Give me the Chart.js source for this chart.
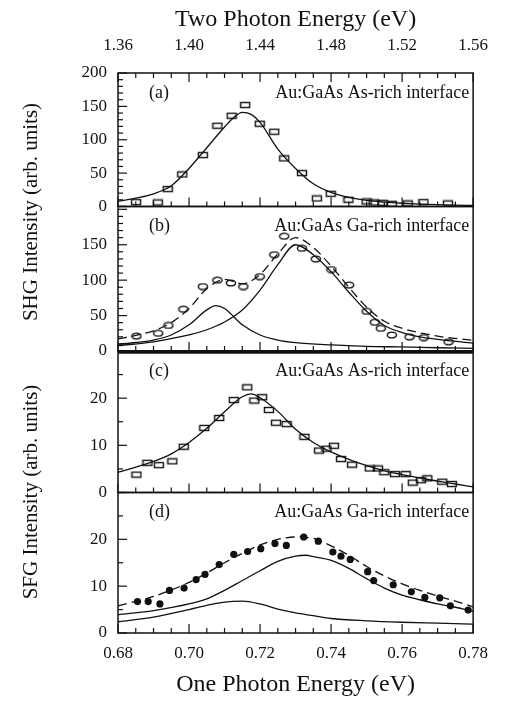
<!DOCTYPE html>
<html>
<head>
<meta charset="utf-8">
<script src="https://cdn.jsdelivr.net/npm/chart.js@4.4.1/dist/chart.umd.min.js"></script>
<style>
  html, body { margin: 0; padding: 0; background: #fff; }
  #wrap { width: 505px; height: 708px; }
</style>
</head>
<body>
<div id="wrap"><canvas id="myChart" width="505" height="708"></canvas></div>
<script>
// axis ticks
var xTicks = [0.68, 0.70, 0.72, 0.74, 0.76, 0.78];
var topTicks = [1.36, 1.40, 1.44, 1.48, 1.52, 1.56];
var yTicksA = [0, 50, 100, 150, 200];
var yTicksB = [0, 50, 100, 150];
var yTicksC = [0, 10, 20];
var yTicksD = [0, 10, 20];

// (a) SHG, As-rich interface
var energyA = [0.6851, 0.6912, 0.6940, 0.6981, 0.7039, 0.7080, 0.7120, 0.7158, 0.7199, 0.7240, 0.7268,
  0.7318, 0.7360, 0.7399, 0.7449, 0.7500, 0.7520, 0.7545, 0.7571, 0.7616, 0.7660, 0.7729];
var shgA = [6.5, 6, 26, 48, 77, 121, 136, 152, 124, 112, 72, 50, 12, 19, 10, 7.5, 6, 5.5, 4, 4.5, 6.5, 4.5];
var fitXA = [0.68, 0.685, 0.69, 0.695, 0.70, 0.705, 0.71, 0.7125, 0.715, 0.7175, 0.72, 0.725, 0.73, 0.735,
  0.74, 0.745, 0.75, 0.755, 0.76, 0.765, 0.77, 0.775, 0.78];
var fitA = [7.5, 12.5, 19, 31, 57, 88, 119, 133, 141, 138, 126, 86, 57, 34, 21, 13.5, 9, 6.5, 4.8, 3.6, 2.7, 2, 1.5];

// (b) SHG, Ga-rich interface
var energyB = [0.6852, 0.6913, 0.6942, 0.6984, 0.7039, 0.7080, 0.7118, 0.7153, 0.7199, 0.7240, 0.7268,
  0.7318, 0.7357, 0.7401, 0.7451, 0.7500, 0.7523, 0.7540, 0.7571, 0.7621, 0.7661, 0.7731];
var shgB = [21, 25, 36, 59, 91, 100, 96, 91, 105, 136, 162, 145, 130, 115, 93, 56, 40.5, 32, 22.6, 20, 19, 13];
var fitXB1 = [0.68, 0.685, 0.69, 0.695, 0.70, 0.705, 0.7075, 0.71, 0.715, 0.72, 0.725, 0.73, 0.74, 0.75, 0.76, 0.77, 0.78];
var fitB1 = [9.4, 12, 15.5, 22.6, 37, 58, 64, 60, 37, 22.6, 15.5, 11.8, 8.5, 6.5, 5.7, 4.6, 3.7];
var fitXB2 = [0.68, 0.69, 0.70, 0.705, 0.71, 0.715, 0.72, 0.725, 0.73, 0.735, 0.74, 0.745, 0.75, 0.755, 0.76, 0.765, 0.77, 0.78];
var fitB2 = [7.5, 13, 22.6, 30, 41, 58, 86, 122, 150, 136, 112, 83, 56, 36, 26, 20, 16.5, 11];
var fitXB3 = [0.68, 0.685, 0.69, 0.695, 0.70, 0.705, 0.71, 0.715, 0.72, 0.725, 0.73, 0.735, 0.74, 0.745, 0.75, 0.755, 0.76, 0.77, 0.78];
var fitB3 = [17, 22, 28.5, 40, 60, 88, 101, 95, 108, 137, 160, 146, 120, 90, 62, 42, 32, 21, 15];

// (c) SFG, As-rich interface
var energyC = [0.6852, 0.6883, 0.6915, 0.6953, 0.6985, 0.7043, 0.7085, 0.7126, 0.7164, 0.7184, 0.7206,
  0.7225, 0.7245, 0.7275, 0.7325, 0.7366, 0.7387, 0.7408, 0.7428, 0.7459, 0.7509, 0.7532, 0.7550,
  0.7580, 0.7610, 0.7630, 0.7653, 0.7671, 0.7713, 0.7740];
var sfgC = [3.8, 6.3, 5.8, 6.6, 9.7, 13.7, 15.8, 19.6, 22.3, 19.5, 20.2, 17.5, 14.8, 14.5, 11.8, 8.9, 9.3,
  9.9, 7.1, 5.9, 5.1, 5.1, 4.3, 3.9, 3.9, 2.1, 2.6, 3.0, 2.3, 1.8];
var fitXC = [0.68, 0.685, 0.69, 0.695, 0.70, 0.705, 0.71, 0.715, 0.7175, 0.72, 0.725, 0.73, 0.735, 0.74,
  0.745, 0.75, 0.755, 0.76, 0.765, 0.77, 0.775, 0.78];
var fitC = [4.3, 5.4, 6.6, 8.2, 10.6, 13.6, 17.1, 20.3, 20.9, 20.1, 17.2, 13.4, 10.6, 8.6, 7.0, 5.7, 4.6, 3.8, 3.1, 2.4, 1.8, 1.2];

// (d) SFG, Ga-rich interface
var energyD = [0.6855, 0.6885, 0.6918, 0.6945, 0.6986, 0.7020, 0.7045, 0.7085, 0.7126, 0.7165, 0.7202,
  0.7242, 0.7274, 0.7323, 0.7364, 0.7405, 0.7428, 0.7454, 0.7503, 0.7520, 0.7575, 0.7626, 0.7664,
  0.7706, 0.7736, 0.7786];
var sfgD = [6.7, 6.7, 6.2, 9.1, 9.6, 11.4, 12.5, 14.6, 16.8, 17.4, 18.0, 19.1, 18.7, 20.5, 19.6, 17.3, 16.4,
  15.7, 13.1, 11.2, 10.3, 8.8, 7.6, 7.5, 5.8, 4.9];
var fitXD1 = [0.68, 0.69, 0.70, 0.705, 0.71, 0.715, 0.72, 0.725, 0.73, 0.735, 0.74, 0.75, 0.76, 0.77, 0.78];
var fitD1 = [2.4, 3.4, 5.0, 5.9, 6.6, 6.8, 6.2, 5.1, 4.3, 3.7, 3.1, 2.6, 2.3, 2.1, 1.9];
var fitXD2 = [0.68, 0.69, 0.70, 0.705, 0.71, 0.715, 0.72, 0.725, 0.73, 0.733, 0.735, 0.74, 0.745, 0.75,
  0.755, 0.76, 0.765, 0.77, 0.775, 0.78];
var fitD2 = [3.9, 4.8, 6.2, 7.3, 9.1, 11.2, 13.3, 15.3, 16.4, 16.6, 16.3, 15.5, 13.8, 11.6, 9.6, 8.1, 7.1, 6.2, 5.5, 4.6];
var fitXD3 = [0.68, 0.69, 0.70, 0.705, 0.71, 0.715, 0.72, 0.725, 0.73, 0.735, 0.74, 0.745, 0.75, 0.755,
  0.76, 0.765, 0.77, 0.775, 0.78];
var fitD3 = [5.8, 7.8, 10.8, 12.8, 15.0, 17.0, 18.8, 20.0, 20.5, 20.2, 18.6, 16.6, 14.2, 12.2, 10.5, 9.1, 7.9, 6.8, 5.6];

var serif = "'Liberation Serif', 'Times New Roman', serif";

function pairs(xs, ys) {
  return xs.map(function (x, i) { return {x: x, y: ys[i]}; });
}

// small open marker shapes used in the original figure
function marker(kind) {
  var c = document.createElement('canvas');
  c.width = 12; c.height = 8;
  var g = c.getContext('2d');
  g.strokeStyle = '#111';
  g.lineWidth = 1.4;
  if (kind === 'box') {
    g.strokeRect(1.5, 1.5, 9, 5);
  } else {
    g.beginPath();
    g.ellipse(6, 4, 4.6, 2.9, 0, 0, Math.PI * 2);
    g.stroke();
  }
  return c;
}
var boxMark = marker('box');
var ovalMark = marker('oval');

function fitLine(xs, ys, axis, dashed) {
  return {
    type: 'line', data: pairs(xs, ys), yAxisID: axis,
    borderColor: '#111', borderWidth: 1.3, borderDash: dashed ? [9, 5] : [],
    pointRadius: 0, tension: 0.4, cubicInterpolationMode: 'monotone', fill: false
  };
}
function points(xs, ys, axis, style) {
  return {
    type: 'scatter', data: pairs(xs, ys), yAxisID: axis,
    pointStyle: style, pointRadius: style === 'circle' ? 3.6 : 5,
    backgroundColor: '#111', borderColor: '#111', borderWidth: 0, showLine: false
  };
}

var panels = [
  {id: 'yA', tag: '(a)', text: 'Au:GaAs As-rich interface', major: 50, minor: 10},
  {id: 'yB', tag: '(b)', text: 'Au:GaAs Ga-rich interface', major: 50, minor: 10},
  {id: 'yC', tag: '(c)', text: 'Au:GaAs As-rich interface', major: 10, minor: 5},
  {id: 'yD', tag: '(d)', text: 'Au:GaAs Ga-rich interface', major: 10, minor: 5}
];

// panel frames, inward tick marks, panel captions and the two left titles
var framePlugin = {
  id: 'frames',
  afterDraw: function (chart) {
    var ctx = chart.ctx, area = chart.chartArea, sx = chart.scales.x;
    ctx.save();
    ctx.strokeStyle = '#111';
    ctx.fillStyle = '#111';
    function seg(x1, y1, x2, y2) { ctx.beginPath(); ctx.moveTo(x1, y1); ctx.lineTo(x2, y2); ctx.stroke(); }
    panels.forEach(function (p, k) {
      var s = chart.scales[p.id];
      ctx.lineWidth = 1.5;
      ctx.strokeRect(area.left, s.top, area.right - area.left, s.bottom - s.top);
      ctx.lineWidth = 1.2;
      var v, px, len;
      for (v = sx.min; v <= sx.max + 1e-9; v += 0.005) {
        px = sx.getPixelForValue(v);
        len = Math.abs(Math.round((v - sx.min) / 0.005)) % 4 === 0 ? 9 : 5;
        seg(px, s.bottom, px, s.bottom - len);
        if (k === 0) seg(px, s.top, px, s.top + len);
      }
      for (v = s.min; v <= s.max + 1e-9; v += p.minor) {
        px = s.getPixelForValue(v);
        len = Math.round(v / p.minor) % Math.round(p.major / p.minor) === 0 ? 9 : 5;
        seg(area.left, px, area.left + len, px);
      }
      ctx.font = '18px ' + serif;
      ctx.textBaseline = 'middle';
      ctx.textAlign = 'left';
      ctx.fillText(p.tag, area.left + 31, s.top + 20);
      ctx.textAlign = 'right';
      ctx.fillText(p.text, area.right - 4, s.top + 20);
    });
    // heavy separator between SHG and SFG blocks
    ctx.lineWidth = 3.5;
    seg(area.left, chart.scales.yB.bottom + 1, area.right, chart.scales.yB.bottom + 1);
    // left titles, each spanning two panels
    ctx.font = '21px ' + serif;
    ctx.textAlign = 'center';
    ctx.textBaseline = 'middle';
    [['SHG Intensity (arb. units)', chart.scales.yA.top, chart.scales.yB.bottom],
     ['SFG Intensity (arb. units)', chart.scales.yC.top, chart.scales.yD.bottom]].forEach(function (t) {
      ctx.save();
      ctx.translate(31, (t[1] + t[2]) / 2);
      ctx.rotate(-Math.PI / 2);
      ctx.fillText(t[0], 0, 0);
      ctx.restore();
    });
    ctx.restore();
  }
};

function yScale(min, max, ticks, weight) {
  return {
    type: 'linear', position: 'left', stack: 'panels', stackWeight: weight,
    min: min, max: max,
    grid: {display: false, drawTicks: false}, border: {display: false},
    afterBuildTicks: function (s) { s.ticks = ticks.map(function (v) { return {value: v}; }); },
    afterFit: function (s) { s.width = 118; },
    ticks: {autoSkip: false, padding: 11, color: '#111', font: {family: serif, size: 17}}
  };
}

var ctx = document.getElementById('myChart').getContext('2d');
var myChart = new Chart(ctx, {
  data: {
    datasets: [
      fitLine(fitXA, fitA, 'yA'),
      points(energyA, shgA, 'yA', boxMark),
      fitLine(fitXB1, fitB1, 'yB'),
      fitLine(fitXB2, fitB2, 'yB'),
      fitLine(fitXB3, fitB3, 'yB', true),
      points(energyB, shgB, 'yB', ovalMark),
      fitLine(fitXC, fitC, 'yC'),
      points(energyC, sfgC, 'yC', boxMark),
      fitLine(fitXD1, fitD1, 'yD'),
      fitLine(fitXD2, fitD2, 'yD'),
      fitLine(fitXD3, fitD3, 'yD', true),
      points(energyD, sfgD, 'yD', 'circle')
    ]
  },
  options: {
    responsive: false,
    animation: false,
    layout: {padding: {left: 0, right: 23, top: 0, bottom: 0}},
    plugins: {legend: {display: false}, tooltip: {enabled: false}},
    scales: {
      x: {
        type: 'linear', position: 'bottom', min: 0.68, max: 0.78,
        grid: {display: false, drawTicks: false}, border: {display: false},
        afterBuildTicks: function (s) { s.ticks = xTicks.map(function (v) { return {value: v}; }); },
        afterFit: function (s) { s.height = 75; },
        ticks: {autoSkip: false, maxRotation: 0, padding: 10, color: '#111', font: {family: serif, size: 17},
          callback: function (v) { return Number(v).toFixed(2); }},
        title: {display: true, text: 'One Photon Energy (eV)', color: '#111', padding: {top: 0, bottom: 9},
          font: {family: serif, size: 24}}
      },
      x2: {
        type: 'linear', position: 'top', min: 1.36, max: 1.56,
        grid: {display: false, drawTicks: false}, border: {display: false},
        afterBuildTicks: function (s) { s.ticks = topTicks.map(function (v) { return {value: v}; }); },
        afterFit: function (s) { s.height = 73; },
        ticks: {autoSkip: false, maxRotation: 0, padding: 17, color: '#111', font: {family: serif, size: 17},
          callback: function (v) { return Number(v).toFixed(2); }},
        title: {display: true, text: 'Two Photon Energy (eV)', color: '#111', padding: {top: 5, bottom: 3},
          font: {family: serif, size: 24}}
      },
      yD: yScale(0, 30, yTicksD, 140),
      yC: yScale(0, 30, yTicksC, 141),
      yB: yScale(0, 204, yTicksB, 144),
      yA: yScale(0, 200, yTicksA, 133)
    }
  },
  plugins: [framePlugin]
});
</script>
</body>
</html>
